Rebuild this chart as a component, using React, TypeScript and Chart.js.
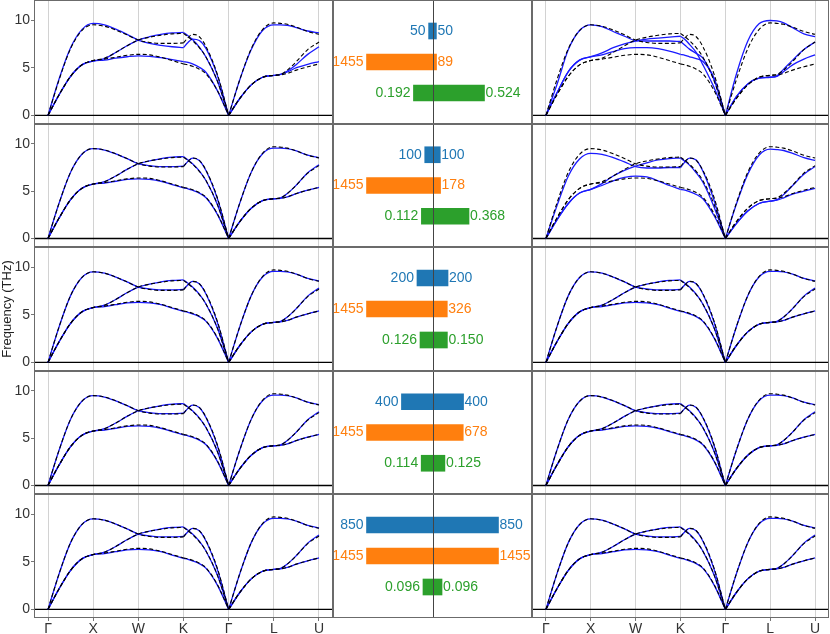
import React, { useEffect, useRef } from "react";
import { Chart, registerables } from "chart.js";

Chart.register(...registerables);

Chart.defaults.font.family = '"Liberation Sans", Arial, sans-serif';
Chart.defaults.font.size = 14;
Chart.defaults.color = "#333";

// k-path samples, high-symmetry points sit on the integers
const K_GRID = [0, 0.25, 0.5, 0.75, 1, 1.25, 1.5, 1.75, 2, 2.25, 2.5, 2.75, 3, 3.1, 3.2, 3.35, 3.5, 3.75, 4, 4.25, 4.5, 4.75, 5, 5.15, 5.3, 5.5, 5.75, 6];
const K_TICKS = [0, 1, 2, 3, 4, 5, 6];
const K_LABELS = ["Γ", "X", "W", "K", "Γ", "L", "U"];
const SEGMENT_BREAKS = [0, 12, 18, 27]; // curves kink at K and Γ
const Y_TICKS = [0, 5, 10];

// reference bands (dashed)
const REF_T1 = [0, 2.2, 4.1, 5.3, 5.75, 5.9, 6.1, 6.3, 6.4, 6.35, 6.1, 5.75, 5.4, 5.3, 5.15, 4.85, 4.35, 2.6, 0, 1.8, 3.2, 4.0, 4.2, 4.25, 4.4, 4.75, 5.1, 5.4];
const REF_T2 = [0, 2.2, 4.1, 5.3, 5.75, 6.0, 6.6, 7.3, 7.9, 8.2, 8.4, 8.55, 8.6, 8.25, 7.85, 7.1, 6.1, 3.6, 0, 1.8, 3.2, 4.0, 4.2, 4.3, 4.75, 5.65, 6.9, 7.7];
const REF_LA = [0, 3.8, 7.0, 8.9, 9.5, 9.35, 8.95, 8.45, 7.9, 7.65, 7.55, 7.55, 7.6, 8.15, 8.5, 8.25, 7.2, 4.3, 0, 3.8, 7.0, 9.0, 9.7, 9.65, 9.55, 9.25, 8.8, 8.5];

// model bands (blue), top-left panel
const A_T1 = [0, 2.2, 4.1, 5.3, 5.7, 5.8, 6.0, 6.15, 6.25, 6.2, 6.05, 5.85, 5.65, 5.55, 5.4, 5.05, 4.5, 2.6, 0, 1.8, 3.2, 4.0, 4.2, 4.3, 4.55, 5.0, 5.35, 5.65];
const A_T2 = [0, 2.2, 4.1, 5.3, 5.7, 5.95, 6.6, 7.3, 7.9, 8.25, 8.5, 8.65, 8.7, 8.35, 7.95, 7.15, 6.1, 3.6, 0, 1.8, 3.2, 4.0, 4.2, 4.3, 4.65, 5.35, 6.4, 7.2];
const A_LA = [0, 3.9, 7.1, 9.0, 9.65, 9.5, 9.05, 8.5, 7.9, 7.55, 7.35, 7.2, 7.1, 7.65, 8.0, 7.85, 7.0, 4.2, 0, 3.8, 6.9, 8.9, 9.5, 9.5, 9.45, 9.2, 8.85, 8.65];

// top-right panel
const B_T1 = [0, 2.4, 4.6, 5.8, 6.15, 6.35, 6.7, 7.0, 7.1, 7.1, 7.0, 6.75, 6.4, 6.3, 6.15, 5.95, 5.65, 3.9, 0, 2.0, 3.3, 3.9, 4.0, 4.1, 4.6, 5.3, 5.9, 6.35];
const B_T2 = [0, 2.4, 4.6, 5.8, 6.15, 6.55, 7.1, 7.5, 7.8, 8.0, 8.1, 8.2, 8.3, 7.95, 7.45, 6.6, 5.3, 2.9, 0, 2.0, 3.3, 3.9, 4.0, 4.15, 4.85, 5.8, 6.9, 7.7];
const B_LA = [0, 3.3, 6.9, 8.9, 9.5, 9.3, 8.8, 8.3, 7.85, 7.8, 7.8, 7.8, 7.75, 7.35, 6.95, 6.5, 6.0, 3.7, 0, 4.4, 7.8, 9.6, 9.95, 9.9, 9.7, 9.2, 8.55, 8.25];

// second row, right panel
const C_T1 = [0, 2.0, 3.7, 4.8, 5.2, 5.6, 6.1, 6.45, 6.6, 6.5, 6.1, 5.6, 5.2, 5.1, 4.95, 4.65, 4.2, 2.4, 0, 1.6, 2.9, 3.7, 3.95, 4.05, 4.3, 4.7, 5.0, 5.3];
const C_T2 = [0, 2.0, 3.7, 4.8, 5.2, 5.8, 6.6, 7.2, 7.65, 8.0, 8.3, 8.45, 8.5, 8.15, 7.75, 6.95, 5.95, 3.3, 0, 1.6, 2.9, 3.7, 3.95, 4.1, 4.65, 5.6, 6.8, 7.6];
const C_LA = [0, 3.5, 6.6, 8.4, 9.0, 8.9, 8.55, 8.1, 7.6, 7.45, 7.45, 7.5, 7.5, 8.1, 8.5, 8.3, 7.1, 4.0, 0, 3.7, 6.8, 8.8, 9.45, 9.4, 9.3, 9.0, 8.55, 8.25];

// the well-converged panels
const F_T1 = [0, 2.2, 4.1, 5.3, 5.75, 5.85, 6.05, 6.25, 6.3, 6.25, 6.05, 5.7, 5.35, 5.25, 5.1, 4.8, 4.3, 2.55, 0, 1.8, 3.2, 4.0, 4.2, 4.25, 4.4, 4.75, 5.1, 5.4];
const F_T2 = [0, 2.2, 4.1, 5.3, 5.75, 6.0, 6.6, 7.3, 7.9, 8.2, 8.45, 8.6, 8.65, 8.3, 7.9, 7.15, 6.1, 3.6, 0, 1.8, 3.2, 4.0, 4.2, 4.3, 4.75, 5.65, 6.95, 7.8];
const F_LA = [0, 3.8, 7.0, 8.9, 9.5, 9.35, 8.95, 8.45, 7.9, 7.7, 7.6, 7.6, 7.65, 8.15, 8.5, 8.25, 7.15, 4.2, 0, 3.8, 7.0, 8.95, 9.55, 9.55, 9.5, 9.25, 8.8, 8.55];

const MODEL_A = [A_T1, A_T2, A_LA];
const MODEL_B = [B_T1, B_T2, B_LA];
const MODEL_C = [C_T1, C_T2, C_LA];
const MODEL_F = [F_T1, F_T2, F_LA];
const LEFT_MODELS = [MODEL_A, MODEL_F, MODEL_F, MODEL_F, MODEL_F];
const RIGHT_MODELS = [MODEL_B, MODEL_C, MODEL_F, MODEL_F, MODEL_F];

// middle column bars, one value per row
const BAR_NAMES = ["blue", "orange", "green"];
const BLUE_LEFT = [50, 100, 200, 400, 850];
const BLUE_RIGHT = [50, 100, 200, 400, 850];
const ORANGE_LEFT = [1455, 1455, 1455, 1455, 1455];
const ORANGE_RIGHT = [89, 178, 326, 678, 1455];
const GREEN_LEFT = [0.192, 0.112, 0.126, 0.114, 0.096];
const GREEN_RIGHT = [0.524, 0.368, 0.15, 0.125, 0.096];
const BAR_FULL = [850, 1455, 0.665];
const BAR_COLORS = ["#1f77b4", "#ff7f0e", "#2ca02c"];

const ROW_TOPS = [0, 124, 247, 371, 494];
const PLOT_BOTTOM = 618;
const CANVAS_END = 640;
const X_AXIS_H = CANVAS_END - PLOT_BOTTOM;
const FONT = '"Liberation Sans", Arial, sans-serif';

const fmt = (v: number) => (Number.isInteger(v) ? String(v) : v.toFixed(3));

const frame = {
  id: "frame",
  afterDraw(chart: any) {
    const { ctx, chartArea: a } = chart;
    ctx.save();
    ctx.strokeStyle = "#6b6b6b";
    ctx.lineWidth = 1;
    ctx.strokeRect(a.left + 0.5, a.top + 0.5, a.right - a.left - 1, a.bottom - a.top - 1);
    ctx.restore();
  },
};

const zeroLine = {
  id: "zeroLine",
  beforeDatasetsDraw(chart: any) {
    const { ctx, chartArea: a, scales } = chart;
    const y0 = scales.y.getPixelForValue(0);
    ctx.save();
    ctx.strokeStyle = "#000";
    ctx.lineWidth = 1.3;
    ctx.beginPath();
    ctx.moveTo(a.left, y0);
    ctx.lineTo(a.right, y0);
    ctx.stroke();
    ctx.restore();
  },
};

function dispersionConfig(bands: number[][], row: number, withY: boolean): any {
  const bottom = row === ROW_TOPS.length - 1;
  const datasets: any[] = [];
  const push = (curves: number[][], style: object) => {
    curves.forEach((curve) => {
      for (let s = 0; s < SEGMENT_BREAKS.length - 1; s++) {
        const a = SEGMENT_BREAKS[s];
        const b = SEGMENT_BREAKS[s + 1];
        datasets.push({
          data: K_GRID.slice(a, b + 1).map((x, i) => ({ x, y: curve[a + i] })),
          ...style,
        });
      }
    });
  };
  // lower order is painted last, so the dashed reference sits on top
  push(bands, { borderColor: "#1a1aff", borderWidth: 1.3, order: 2 });
  push([REF_T1, REF_T2, REF_LA], { borderColor: "#000", borderWidth: 1.1, borderDash: [4, 2.5], order: 1 });

  return {
    type: "line",
    data: { datasets },
    options: {
      animation: false,
      responsive: true,
      maintainAspectRatio: false,
      events: [],
      layout: { padding: { left: withY ? 0 : 1, right: 1, top: 1, bottom: bottom ? 0 : 1 } },
      elements: {
        point: { radius: 0 },
        line: { cubicInterpolationMode: "monotone", fill: false },
      },
      plugins: { legend: { display: false }, tooltip: { enabled: false } },
      scales: {
        x: {
          type: "linear",
          min: -0.31,
          max: 6.31,
          afterBuildTicks: (s: any) => {
            s.ticks = K_TICKS.map((v) => ({ value: v }));
          },
          ticks: {
            display: bottom,
            autoSkip: false,
            maxRotation: 0,
            padding: 0,
            color: "#333",
            font: { size: 14 },
            callback: (_v: any, i: number) => K_LABELS[i],
          },
          grid: { color: "#d2d2d2", lineWidth: 1, drawTicks: bottom, tickLength: 3, tickColor: "#777" },
          border: { display: false },
          afterFit: (s: any) => {
            s.height = bottom ? X_AXIS_H : 0;
            s.paddingLeft = 0;
            s.paddingRight = 0;
          },
        },
        y: {
          type: "linear",
          display: withY,
          min: -0.9,
          max: 12.1,
          afterBuildTicks: (s: any) => {
            s.ticks = Y_TICKS.map((v) => ({ value: v }));
          },
          ticks: { padding: 1, color: "#333", font: { size: 14 } },
          grid: { drawOnChartArea: false, drawTicks: true, tickLength: 3, tickColor: "#777" },
          border: { display: false },
          title: {
            display: withY && row === 2,
            text: "Frequency (THz)",
            color: "#222",
            font: { size: 13, lineHeight: 1.1 },
            padding: 0,
          },
          afterFit: (s: any) => {
            s.width = withY ? 34 : 0;
            s.paddingTop = 0;
            s.paddingBottom = 0;
          },
        },
      },
    },
    plugins: [zeroLine, frame],
  };
}

function barConfig(row: number): any {
  const left = [BLUE_LEFT[row], ORANGE_LEFT[row], GREEN_LEFT[row]];
  const right = [BLUE_RIGHT[row], ORANGE_RIGHT[row], GREEN_RIGHT[row]];
  const spans = left.map((l, i) => [-l / BAR_FULL[i], right[i] / BAR_FULL[i]]);

  const barLabels = {
    id: "barLabels",
    afterDatasetsDraw(chart: any) {
      const { ctx, chartArea: a, scales } = chart;
      const cx = Math.round(scales.x.getPixelForValue(0)) + 0.5;
      ctx.save();
      ctx.strokeStyle = "#444";
      ctx.lineWidth = 1;
      ctx.beginPath();
      ctx.moveTo(cx, a.top);
      ctx.lineTo(cx, a.bottom);
      ctx.stroke();

      const meta = chart.getDatasetMeta(0);
      ctx.font = `14px ${FONT}`;
      ctx.textBaseline = "middle";
      for (let j = 0; j < 3; j++) {
        const el = meta.data[j + 1];
        const lo = Math.min(el.x, el.base);
        const hi = Math.max(el.x, el.base);
        ctx.fillStyle = BAR_COLORS[j];
        ctx.textAlign = "right";
        ctx.fillText(fmt(left[j]), lo - 3, el.y);
        ctx.textAlign = "left";
        ctx.fillText(fmt(right[j]), hi + 1, el.y);
      }
      ctx.restore();
    },
  };

  return {
    type: "bar",
    data: {
      labels: ["", ...BAR_NAMES, ""],
      datasets: [
        {
          data: [null, ...spans, null],
          backgroundColor: ["transparent", ...BAR_COLORS, "transparent"],
          borderWidth: 0,
          barThickness: 16,
        },
      ],
    },
    options: {
      indexAxis: "y",
      animation: false,
      responsive: true,
      maintainAspectRatio: false,
      events: [],
      layout: { padding: { left: 1, right: 1, top: 1, bottom: 1 } },
      plugins: { legend: { display: false }, tooltip: { enabled: false } },
      scales: {
        x: { type: "linear", min: -1.508, max: 1.508, display: false },
        y: { type: "category", offset: false, display: false, grid: { offset: false } },
      },
    },
    plugins: [frame, barLabels],
  };
}

interface BoxProps {
  x: number;
  y: number;
  w: number;
  h: number;
  build: () => any;
}

const ChartBox: React.FC<BoxProps> = ({ x, y, w, h, build }) => {
  const canvasRef = useRef<HTMLCanvasElement | null>(null);

  useEffect(() => {
    if (!canvasRef.current) return;
    const chart = new Chart(canvasRef.current, build());
    return () => {
      chart.destroy();
    };
  }, []);

  return (
    <div style={{ position: "absolute", left: x, top: y, width: w, height: h }}>
      <canvas ref={canvasRef} />
    </div>
  );
};

export default function App() {
  const cells: React.ReactNode[] = [];
  ROW_TOPS.forEach((top, r) => {
    const last = r === ROW_TOPS.length - 1;
    const bottom = last ? PLOT_BOTTOM : ROW_TOPS[r + 1];
    const h = last ? CANVAS_END - (top - 1) : bottom - top + 2;
    cells.push(<ChartBox key={`l${r}`} x={0} y={top - 1} w={334} h={h} build={() => dispersionConfig(LEFT_MODELS[r], r, true)} />);
    cells.push(<ChartBox key={`m${r}`} x={332} y={top - 1} w={201} h={bottom - top + 2} build={() => barConfig(r)} />);
    cells.push(<ChartBox key={`r${r}`} x={531} y={top - 1} w={299} h={h} build={() => dispersionConfig(RIGHT_MODELS[r], r, false)} />);
  });

  return (
    <div
      style={{
        position: "absolute",
        left: 0,
        top: 0,
        width: 830,
        height: 634,
        overflow: "hidden",
        background: "#fff",
      }}
    >
      {cells}
    </div>
  );
}
